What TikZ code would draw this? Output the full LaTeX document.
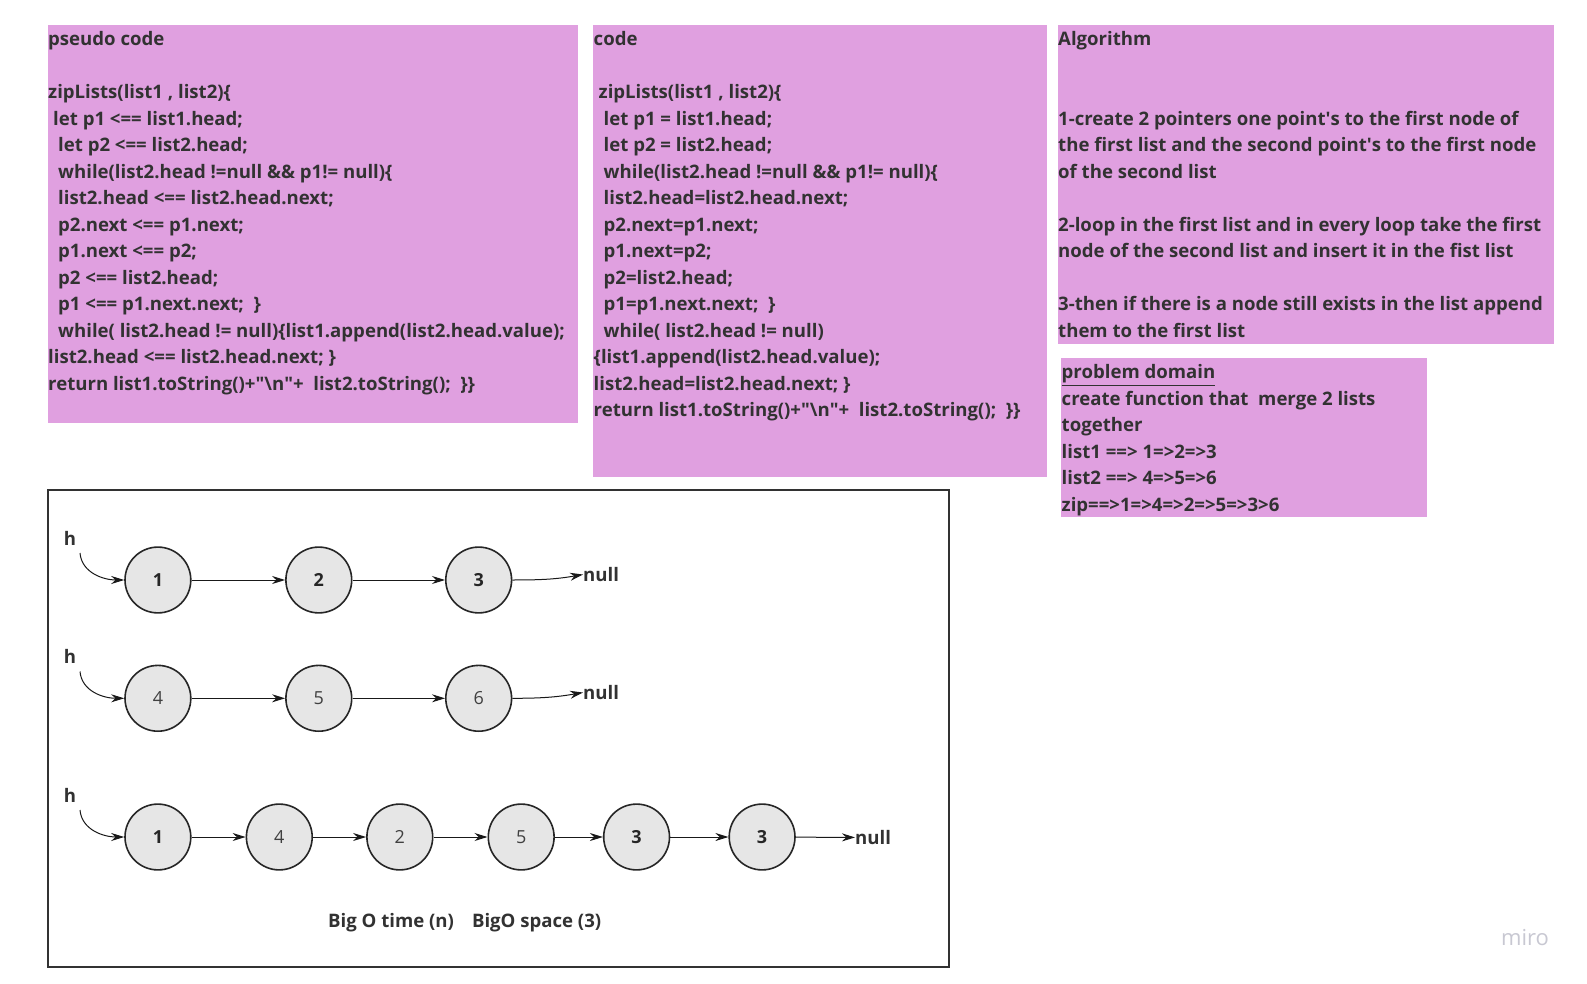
\documentclass[tikz,border=0pt]{standalone}
\usepackage{fontspec}
\setmainfont{Open Sans}
\usetikzlibrary{arrows.meta}
\definecolor{boxviolet}{RGB}{224,160,224}
\definecolor{txt}{RGB}{50,50,50}
\definecolor{nodefill}{RGB}{230,230,230}
\definecolor{framec}{RGB}{50,50,50}
\definecolor{wm}{RGB}{200,200,210}
\newcommand{\indsp}[1]{\hspace*{#1pt}}
\begin{document}
\begin{tikzpicture}[x=1pt,y=-1pt,
  panel/.style={fill=boxviolet, draw=none},
  boxtext/.style={anchor=north west, inner sep=0pt, align=left, text=txt,
    font=\bfseries\fontsize{18.6}{26.5}\selectfont},
  lnode/.style={circle, draw=black!85, line width=1.6pt, fill=nodefill,
    minimum size=65.8pt, inner sep=0pt},
  boldnum/.style={font=\bfseries\fontsize{18}{20}\selectfont, text=black!85},
  thinnum/.style={font=\fontsize{18}{20}\selectfont, text=black!75},
  lbl/.style={inner sep=0pt, text=txt, font=\bfseries\fontsize{18.6}{22}\selectfont},
  conn/.style={-{Stealth[length=13pt,width=8pt]}, line width=1pt, black!90}
]
\useasboundingbox (0,0) rectangle (1587,984);
\fill[white] (0,0) rectangle (1587,984);

% panels
\path[panel] (47.6,25.3) rectangle (578,423);
\path[panel] (593,25.3) rectangle (1046.5,476.7);
\path[panel] (1057.6,25.3) rectangle (1553.6,344);
\path[panel] (1060.7,358) rectangle (1427,517);

\node[boxtext] (pseudo) at (48,31.5) {pseudo code\\[26.5pt]
zipLists(list1 , list2)\{\\
\indsp{5}let p1 <== list1.head;\\
\indsp{10}let p2 <== list2.head;\\
\indsp{10}while(list2.head !=null \&\& p1!= null)\{\\
\indsp{10}list2.head <== list2.head.next;\\
\indsp{10}p2.next <== p1.next;\\
\indsp{10}p1.next <== p2;\\
\indsp{10}p2 <== list2.head;\\
\indsp{10}p1 <== p1.next.next;\ \ \}\\
\indsp{10}while( list2.head != null)\{list1.append(list2.head.value);\\
list2.head <== list2.head.next; \}\\
return list1.toString()+\textquotedbl\textbackslash n\textquotedbl+\ \ list2.toString();\ \ \}\}};

\node[boxtext] (code) at (593.5,31.5) {code\\[26.5pt]
\indsp{5}zipLists(list1 , list2)\{\\
\indsp{10}let p1 = list1.head;\\
\indsp{10}let p2 = list2.head;\\
\indsp{10}while(list2.head !=null \&\& p1!= null)\{\\
\indsp{10}list2.head=list2.head.next;\\
\indsp{10}p2.next=p1.next;\\
\indsp{10}p1.next=p2;\\
\indsp{10}p2=list2.head;\\
\indsp{10}p1=p1.next.next;\ \ \}\\
\indsp{10}while( list2.head != null)\\
\{list1.append(list2.head.value);\\
list2.head=list2.head.next; \}\\
return list1.toString()+\textquotedbl\textbackslash n\textquotedbl+\ \ list2.toString();\ \ \}\}};

\node[boxtext] (algo) at (1058,31.5) {Algorithm\\[53pt]
1-create 2 pointers one point\textquotesingle s to the first node of\\
the first list and the second point\textquotesingle s to the first node\\
of the second list\\[26.5pt]
2-loop in the first list and in every loop take the first\\
node of the second list and insert it in the fist list\\[26.5pt]
3-then if there is a node still exists in the list append\\
them to the first list};

\node[boxtext] (domain) at (1061.5,364.5) {\underline{problem domain}\\
create function that\ \ merge 2 lists\\
together\\
list1 ==> 1=>2=>3\\
list2 ==> 4=>5=>6\\
zip==>1=>4=>2=>5=>3>6};

% frame
\draw[framec, line width=2pt] (47.6,490) rectangle (949.4,966.5);

% row 1
\node[lnode, boldnum] (a1) at (157.9,580) {1};
\node[lnode, boldnum] (a2) at (318.8,580) {2};
\node[lnode, boldnum] (a3) at (478.7,580) {3};
\node[lbl] (h1) at (70,538.4) {h};
\node[lbl, anchor=west] (n1) at (583,574.5) {null};
\coordinate (hs1) at (80,553);
\draw[conn] (hs1) to[out=-85,in=180] (a1.west);
\draw[conn] (a1) -- (a2);
\draw[conn] (a2) -- (a3);
\draw[conn] (a3.east) to[out=0,in=190] (n1.west);

% row 2
\node[lnode, thinnum] (b1) at (157.9,698.3) {4};
\node[lnode, thinnum] (b2) at (318.8,698.3) {5};
\node[lnode, thinnum] (b3) at (478.7,698.3) {6};
\node[lbl] (h2) at (70,656.9) {h};
\node[lbl, anchor=west] (n2) at (583,692.5) {null};
\coordinate (hs2) at (80,671.5);
\draw[conn] (hs2) to[out=-85,in=180] (b1.west);
\draw[conn] (b1) -- (b2);
\draw[conn] (b2) -- (b3);
\draw[conn] (b3.east) to[out=0,in=190] (n2.west);

% row 3
\node[lnode, boldnum] (c1) at (157.9,837) {1};
\node[lnode, thinnum] (c2) at (279.3,837) {4};
\node[lnode, thinnum] (c3) at (399.8,837) {2};
\node[lnode, thinnum] (c4) at (521.2,837) {5};
\node[lnode, boldnum] (c5) at (636.6,837) {3};
\node[lnode, boldnum] (c6) at (762.1,837) {3};
\node[lbl] (h3) at (70,795.5) {h};
\node[lbl, anchor=west] (n3) at (855,837.5) {null};
\coordinate (hs3) at (80,810);
\draw[conn] (hs3) to[out=-85,in=180] (c1.west);
\draw[conn] (c1) -- (c2);
\draw[conn] (c2) -- (c3);
\draw[conn] (c3) -- (c4);
\draw[conn] (c4) -- (c5);
\draw[conn] (c5) -- (c6);
\draw[conn] (c6) -- (n3);

\node[lbl, anchor=west] (bigo) at (328,923) {Big O time (n)\hspace{18pt}BigO space (3)};

\node[inner sep=0pt, text=wm, font=\fontsize{22}{24}\selectfont] (miro) at (1525,938) {miro};
\end{tikzpicture}
\end{document}
